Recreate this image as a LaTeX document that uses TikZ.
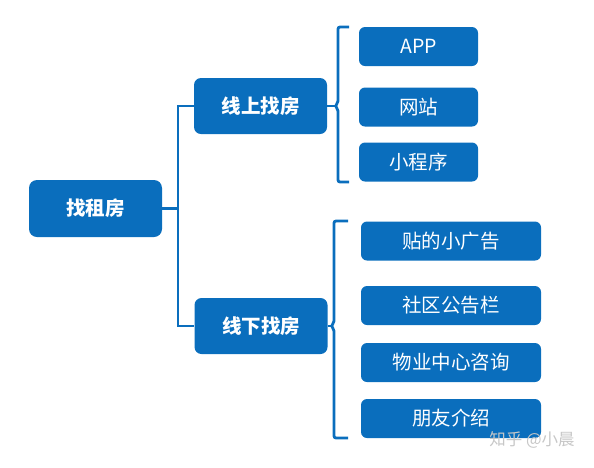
\documentclass[tikz,border=0pt]{standalone}
\usepackage{fontspec}
\setmainfont{Noto Sans CJK SC}
\definecolor{boxblue}{HTML}{0A6EBD}

\begin{document}
\begin{tikzpicture}[
            x=1pt, y=-1pt,
            every node/.style={fill=boxblue, text=white, inner sep=0pt},
            topic/.style={rounded corners=8pt, minimum width=133pt, minimum height=57pt,
                font=\fontsize{19.5}{20}\selectfont\bfseries},
            way/.style={rounded corners=7pt, minimum width=133pt, minimum height=56pt,
                font=\fontsize{19.5}{20}\selectfont\bfseries},
            leaf/.style={rounded corners=6pt, minimum height=39pt,
                font=\fontsize{19.5}{20}\selectfont},
            link/.style={draw=boxblue, line width=2.8pt, rounded corners=2pt},
            ]
            \useasboundingbox (0,0) rectangle (594,467);
            % main topic and the two ways
            \node[topic] (root) at (95.5, 208.5) {找租房};
            \node[way] (online) at (260.5, 106) {线上找房};
            \node[way] (offline) at (261, 326) {线下找房};
            % online leaves
            \node[leaf, minimum width=119pt] (app) at (418.5, 46.5) {APP};
            \node[leaf, minimum width=119pt] (site) at (418.5, 107) {网站};
            \node[leaf, minimum width=119pt] (mini) at (418.5, 162) {小程序};
            % offline leaves
            \node[leaf, minimum width=180pt] (ad) at (451, 241) {贴的小广告};
            \node[leaf, minimum width=180pt] (board) at (451, 305.5) {社区公告栏};
            \node[leaf, minimum width=180pt] (office) at (451, 362.5) {物业中心咨询};
            \node[leaf, minimum width=180pt] (friend) at (451, 418.5) {朋友介绍};
            % watermark
            \node[fill=none, text=black!22, font=\fontsize{16.5}{17}\selectfont] (mark) at (532, 440) {知乎 @小晨};

            % root to the two ways
            \coordinate (spine) at (178, 208.5);
            \coordinate (spinetop) at (178, 106);
            \coordinate (spinebot) at (178, 326);
            \draw[link, rounded corners=0pt] (root.east) -- (spine);
            \draw[link, rounded corners=0pt] (online.west) -- (spinetop) -- (spinebot) -- (offline.west);

            % online bracket
            \coordinate (onmid) at (335, 106);
            \coordinate (ontop) at (349, 27);
            \coordinate (onbot) at (349, 182);
            \draw[link, rounded corners=0pt] (online.east) -- (onmid);
            \draw[link] (ontop) -- (338, 27) -- (338, 103) -- (onmid) -- (338, 109) -- (338, 182) -- (onbot);

            % offline bracket
            \coordinate (offmid) at (331, 326);
            \coordinate (offtop) at (348, 221);
            \coordinate (offbot) at (348, 438);
            \draw[link, rounded corners=0pt] (offline.east) -- (offmid);
            \draw[link] (offtop) -- (334, 221) -- (334, 323) -- (offmid) -- (334, 329) -- (334, 438) -- (offbot);
        \end{tikzpicture}
\end{document}
